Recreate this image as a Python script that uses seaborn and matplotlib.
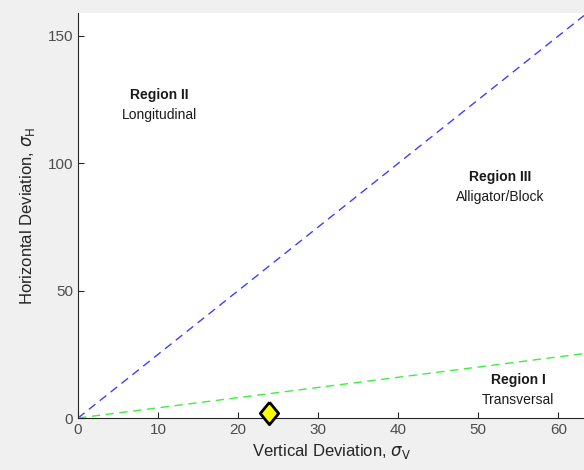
import matplotlib
matplotlib.use("Agg")
import matplotlib.pyplot as plt
import seaborn as sns
import pandas as pd

# Region boundary lines (vertical deviation vs horizontal deviation)
boundary_x = [0, 63.2]
upper_boundary_y = [0, 158.0]   # Region II / Region III
lower_boundary_y = [0, 25.3]    # Region III / Region I

# Measured point
point_x = [23.8]
point_y = [2.0]

# Region annotations
region_names = ["Region II", "Region III", "Region I"]
region_types = ["Longitudinal", "Alligator/Block", "Transversal"]
region_x = [10.2, 52.7, 55.0]
region_y = [126.8, 94.5, 15.0]

sns.set_style("white")
plt.rcParams["font.family"] = ["Liberation Sans", "DejaVu Sans"]
plt.rcParams["mathtext.fontset"] = "dejavusans"

fig = plt.figure(figsize=(5.84, 4.70), dpi=100, facecolor="#f0f0f0")
ax = fig.add_axes([0.1336, 0.1106, 0.8664, 0.8617])
ax.set_facecolor("white")

df_up = pd.DataFrame({"x": boundary_x, "y": upper_boundary_y})
df_low = pd.DataFrame({"x": boundary_x, "y": lower_boundary_y})
sns.lineplot(data=df_up, x="x", y="y", ax=ax, color="#3f3fff", linestyle=(0, (6, 4)), linewidth=1.0)
sns.lineplot(data=df_low, x="x", y="y", ax=ax, color="#3fee3f", linestyle=(0, (6, 4)), linewidth=1.0)

# taller-than-wide diamond, like MATLAB's 'd' marker
diamond = [(0, 1), (0.82, 0), (0, -1), (-0.82, 0), (0, 1)]
df_pt = pd.DataFrame({"x": point_x, "y": point_y})
sns.scatterplot(data=df_pt, x="x", y="y", ax=ax, marker=diamond, s=260, color="#ffff00",
                edgecolor="black", linewidth=2, zorder=5, clip_on=False)

for name, kind, x, y in zip(region_names, region_types, region_x, region_y):
    ax.text(x, y, name, ha="center", va="center", fontsize=10, fontweight="bold", color="#1a1a1a")
    ax.text(x, y - 7.9, kind, ha="center", va="center", fontsize=10, color="#1a1a1a")

ax.set_xlim(0, 63.2)
ax.set_ylim(0, 159)
ax.set_xticks([0, 10, 20, 30, 40, 50, 60])
ax.set_yticks([0, 50, 100, 150])
ax.set_xlabel(r"Vertical Deviation, $\sigma_{\rm V}$", fontsize=12, color="#262626", labelpad=4)
ax.set_ylabel(r"Horizontal Deviation, $\sigma_{\rm H}$", fontsize=12, color="#262626", labelpad=8)

for side in ["top", "right"]:
    ax.spines[side].set_visible(False)
for side in ["left", "bottom"]:
    ax.spines[side].set_color("#262626")
    ax.spines[side].set_linewidth(0.8)
ax.tick_params(direction="in", length=4, width=0.8, colors="#262626", labelsize=11,
               labelcolor="#4d4d4d", bottom=True, left=True)

fig.savefig("out.png", dpi=100, facecolor=fig.get_facecolor())
